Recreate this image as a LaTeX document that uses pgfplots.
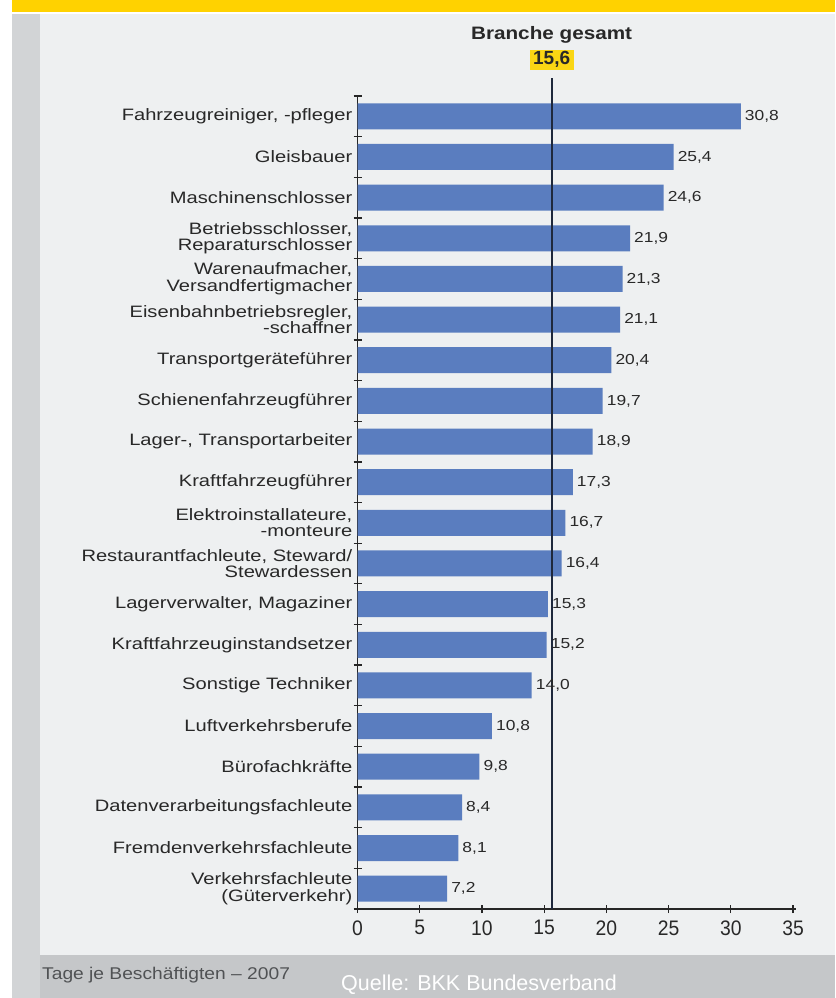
\documentclass[border=0pt]{standalone}
\usepackage{fontspec}
\setmainfont{Liberation Sans}
\newfontfamily\catfont[FakeStretch=1.22]{Liberation Sans}
\newfontfamily\valfont[FakeStretch=1.2]{Liberation Sans}
\newfontfamily\tickfont[FakeStretch=0.92]{Liberation Sans}
\newfontfamily\headfont[FakeStretch=1.15]{Liberation Sans}
\newfontfamily\capfont[FakeStretch=1.13]{Liberation Sans}
\usepackage{pgfplots}
\pgfplotsset{compat=1.18}
\definecolor{barblue}{RGB}{90,125,191}
\definecolor{panel}{RGB}{238,240,241}
\definecolor{frame}{RGB}{210,212,214}
\definecolor{band}{RGB}{197,199,201}
\definecolor{hdr}{RGB}{255,210,0}
\definecolor{hl}{RGB}{250,214,20}
\definecolor{txt}{RGB}{40,40,40}
\definecolor{capt}{RGB}{80,82,84}
\definecolor{linec}{RGB}{30,40,60}
\begin{document}
\begin{tikzpicture}
\useasboundingbox (0pt,0pt) rectangle (835pt,-998pt);
\fill[white] (0pt,0pt) rectangle (835pt,-998pt);
\fill[hdr] (12pt,0pt) rectangle (835pt,-12pt);
\fill[frame] (12pt,-14pt) rectangle (40pt,-998pt);
\fill[band] (40pt,-955pt) rectangle (835pt,-998pt);
\fill[panel] (40pt,-14pt) rectangle (835pt,-955pt);
\node[anchor=west, text=capt, inner sep=0pt] at (42pt,-975pt) {\capfont\fontsize{17}{17}\selectfont Tage je Beschäftigten – 2007};
\node[anchor=west, text=white, inner sep=0pt] at (341pt,-985pt) {\fontsize{21.5}{21.5}\selectfont Quelle: BKK Bundesverband};
\begin{axis}[
  at={(357.5pt,-909pt)}, anchor=south west,
  scale only axis, width=438pt, height=813pt,
  xmin=0, xmax=35.2, ymin=0.5, ymax=20.5,
  axis x line*=bottom, axis y line*=left,
  axis line style={line width=1.6pt, draw=black!85, -},
  xtick={0,5,...,35},
  ytick={1,...,20},
  yticklabels={{Verkehrsfachleute\\(Güterverkehr)},
    Fremdenverkehrsfachleute,
    Datenverarbeitungsfachleute,
    Bürofachkräfte,
    Luftverkehrsberufe,
    Sonstige Techniker,
    Kraftfahrzeuginstandsetzer,
    {Lagerverwalter, Magaziner},
    {Restaurantfachleute, Steward/\\Stewardessen},
    {Elektroinstallateure,\\-monteure},
    Kraftfahrzeugführer,
    {Lager-, Transportarbeiter},
    Schienenfahrzeugführer,
    Transportgeräteführer,
    {Eisenbahnbetriebsregler,\\-schaffner},
    {Warenaufmacher,\\Versandfertigmacher},
    {Betriebsschlosser,\\Reparaturschlosser},
    Maschinenschlosser,
    Gleisbauer,
    {Fahrzeugreiniger, -pfleger}},
  minor ytick={0.5,1.5,...,20.5},
  tick align=center,
  major tick length=8pt,
  minor tick length=8pt,
  major y tick style={draw=none},
  tick style={line width=1.3pt, black!85},
  minor y tick style={line width=1.3pt, black!85},
  yticklabel style={font=\catfont\fontsize{16.5}{16.5}\selectfont, align=right, text=txt, inner sep=0pt, xshift=-1pt},
  xticklabel style={font=\tickfont\fontsize{21}{21}\selectfont, text=txt, yshift=-4pt},
  bar width=26pt,
  clip=false,
  /pgf/number format/assume math mode=true,
]
\addplot[xbar, fill=barblue, draw=none,
  nodes near coords={\pgfmathprintnumber[fixed,fixed zerofill,precision=1,use comma]{\pgfplotspointmeta}},
  nodes near coords style={font=\valfont\fontsize{14.5}{14.5}\selectfont, text=txt, anchor=west, inner sep=0pt, xshift=4pt}]
  coordinates {
  (7.2,1) (8.1,2) (8.4,3) (9.8,4) (10.8,5) (14.0,6) (15.2,7) (15.3,8) (16.4,9) (16.7,10)
  (17.3,11) (18.9,12) (19.7,13) (20.4,14) (21.1,15) (21.3,16) (21.9,17) (24.6,18) (25.4,19) (30.8,20)};
\addplot[linec, line width=2pt, mark=none] coordinates {(15.6,0.5) (15.6,20.94)};
\node[text=txt, inner sep=0pt, font=\headfont\bfseries\fontsize{18}{18}\selectfont] at (axis cs:15.6,22.0) {Branche gesamt};
\node[fill=hl, inner sep=0pt, minimum width=44pt, minimum height=20pt, text=txt, font=\bfseries\fontsize{19}{19}\selectfont] at (axis cs:15.6,21.39) {15,6};
\end{axis}
\end{tikzpicture}
\end{document}
